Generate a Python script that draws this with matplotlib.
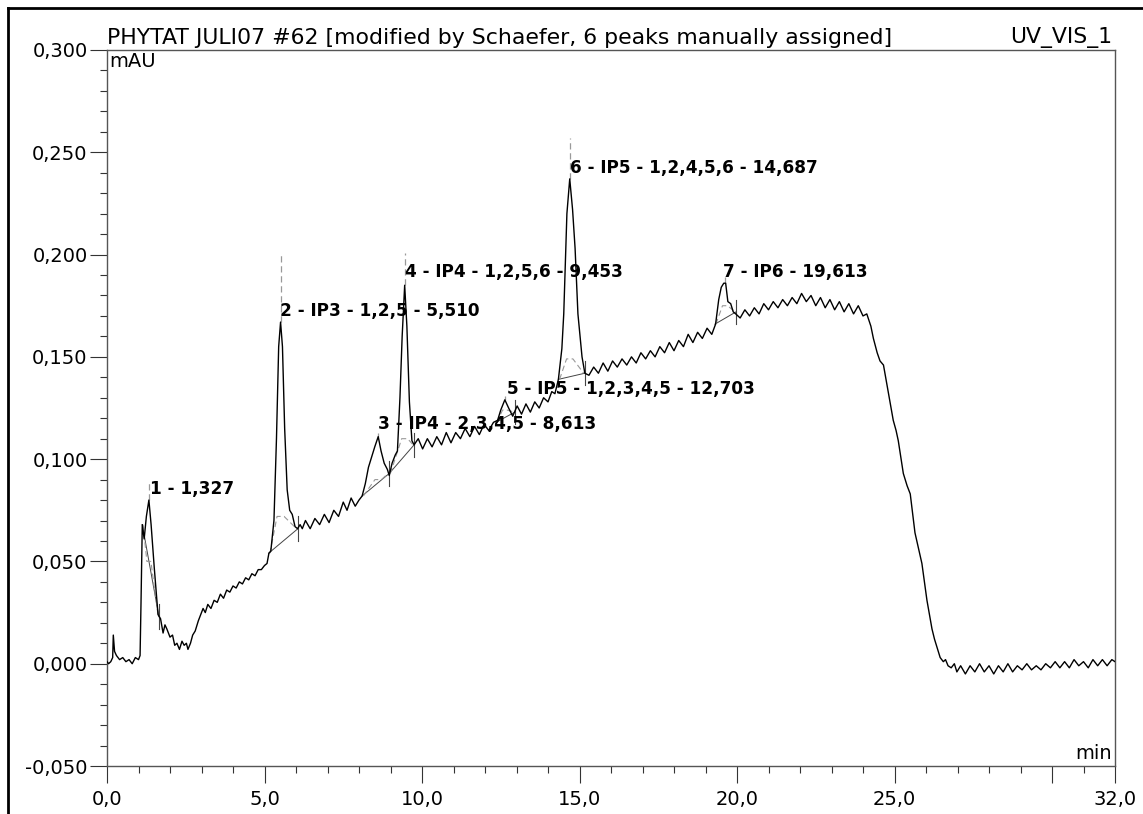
import matplotlib
matplotlib.use("Agg")
import matplotlib.pyplot as plt
from matplotlib.lines import Line2D
from matplotlib.ticker import MultipleLocator, FixedLocator, FuncFormatter

plt.rcParams['font.family'] = ['DejaVu Sans']

# chromatogram trace (min, mAU)
t_trace = [0.0, 0.05, 0.12, 0.18, 0.2, 0.24, 0.3, 0.4, 0.5, 0.6, 0.7, 0.8, 0.9, 1.0, 1.05,
           1.08, 1.12, 1.18, 1.25, 1.33, 1.40, 1.5, 1.62, 1.7, 1.78, 1.84, 1.9, 2.0, 2.08, 2.15,
           2.22, 2.3, 2.38, 2.45, 2.52, 2.57, 2.65, 2.72, 2.8, 2.9, 3.0, 3.05, 3.12, 3.2, 3.3,
           3.4, 3.5, 3.6, 3.7, 3.8, 3.9, 4.0, 4.1, 4.2, 4.3, 4.4, 4.5, 4.6, 4.7, 4.8, 4.9, 5.0,
           5.08, 5.14, 5.2, 5.3, 5.38, 5.45, 5.51, 5.57, 5.64, 5.72, 5.8, 5.88, 5.97, 6.05, 6.13,
           6.2, 6.30, 6.45, 6.60, 6.75, 6.90, 7.05, 7.20, 7.35, 7.50, 7.62, 7.75, 7.88, 8.0, 8.1,
           8.2, 8.3, 8.4, 8.5, 8.61, 8.7, 8.8, 8.9, 8.96, 9.05, 9.15, 9.22, 9.3,
           9.37, 9.45, 9.52, 9.6, 9.68, 9.75, 9.88, 10.02, 10.17, 10.32, 10.47, 10.62, 10.77,
           10.92, 11.07, 11.22, 11.37, 11.52, 11.67, 11.82, 11.97, 12.12, 12.27, 12.4,
           12.5, 12.63, 12.75, 12.88, 13.02, 13.16, 13.3, 13.44, 13.58, 13.72, 13.86, 14.0,
           14.12, 14.22, 14.33, 14.44, 14.5, 14.6, 14.69, 14.78, 14.86, 14.95, 15.08, 15.17,
           15.3, 15.45, 15.6, 15.75, 15.9, 16.05, 16.2, 16.35, 16.5, 16.65, 16.8, 16.95, 17.1,
           17.25, 17.4, 17.55, 17.7, 17.85, 18.0, 18.15, 18.3, 18.45, 18.6, 18.75, 18.9, 19.05,
           19.2, 19.32, 19.42, 19.5, 19.58, 19.64, 19.71, 19.8, 19.88, 19.96,
           20.1, 20.25, 20.4, 20.55, 20.7, 20.85, 21.0, 21.15, 21.3, 21.45, 21.6, 21.75, 21.9,
           22.05, 22.2, 22.35, 22.5, 22.65, 22.8, 22.95, 23.1, 23.25, 23.4, 23.55, 23.7, 23.85,
           24.0, 24.12, 24.25, 24.33, 24.45, 24.54, 24.65, 24.8, 24.96, 25.05, 25.12, 25.28, 25.4,
           25.5, 25.65, 25.87, 25.95, 26.03, 26.1, 26.19, 26.27, 26.35, 26.45, 26.55, 26.62,
           26.7, 26.8, 26.9, 26.98, 27.1, 27.25, 27.4, 27.55, 27.7, 27.85, 28.0, 28.15, 28.3,
           28.45, 28.6, 28.75, 28.9, 29.05, 29.2, 29.35, 29.5, 29.65, 29.8, 29.95, 30.1, 30.25,
           30.4, 30.55, 30.7, 30.85, 31.0, 31.15, 31.3, 31.45, 31.6, 31.75, 31.9, 32.0]
v_trace = [0.001, 0.0, 0.001, 0.003, 0.014, 0.006, 0.004, 0.002, 0.003, 0.001, 0.002, 0.0, 0.003, 0.002, 0.004,
           0.03, 0.068, 0.061, 0.072, 0.080, 0.068, 0.047, 0.024, 0.022, 0.015, 0.019, 0.017, 0.013, 0.014, 0.009,
           0.010, 0.007, 0.011, 0.009, 0.010, 0.007, 0.010, 0.014, 0.016, 0.021, 0.025, 0.027, 0.025, 0.029, 0.027,
           0.031, 0.030, 0.034, 0.032, 0.036, 0.035, 0.038, 0.037, 0.040, 0.039, 0.042, 0.041, 0.044, 0.043, 0.046, 0.046, 0.048,
           0.049, 0.054, 0.055, 0.070, 0.110, 0.155, 0.167, 0.155, 0.115, 0.085, 0.075, 0.073, 0.067, 0.066, 0.068,
           0.066, 0.070, 0.066, 0.071, 0.068, 0.073, 0.069, 0.075, 0.072, 0.079, 0.075, 0.081, 0.077, 0.080, 0.082,
           0.088, 0.096, 0.101, 0.106, 0.111, 0.104, 0.098, 0.095, 0.092, 0.098, 0.102, 0.104, 0.130,
           0.160, 0.185, 0.165, 0.128, 0.109, 0.107, 0.110, 0.105, 0.110, 0.106, 0.111, 0.107, 0.113,
           0.108, 0.113, 0.110, 0.115, 0.111, 0.116, 0.112, 0.117, 0.114, 0.118, 0.119,
           0.124, 0.129, 0.125, 0.121, 0.126, 0.122, 0.127, 0.123, 0.128, 0.125, 0.130, 0.128,
           0.133, 0.132, 0.139, 0.154, 0.171, 0.220, 0.237, 0.222, 0.203, 0.171, 0.150, 0.142,
           0.141, 0.145, 0.142, 0.147, 0.143, 0.148, 0.145, 0.149, 0.146, 0.150, 0.147, 0.152, 0.149,
           0.153, 0.150, 0.155, 0.152, 0.157, 0.153, 0.158, 0.155, 0.161, 0.157, 0.162, 0.159, 0.164,
           0.161, 0.166, 0.178, 0.184, 0.186, 0.186, 0.177, 0.176, 0.172, 0.171,
           0.169, 0.173, 0.170, 0.174, 0.171, 0.176, 0.173, 0.177, 0.174, 0.178, 0.175, 0.179, 0.176,
           0.181, 0.177, 0.180, 0.175, 0.179, 0.174, 0.178, 0.173, 0.177, 0.172, 0.176, 0.171, 0.175,
           0.170, 0.171, 0.165, 0.159, 0.152, 0.148, 0.146, 0.133, 0.119, 0.114, 0.109, 0.093, 0.087,
           0.083, 0.064, 0.049, 0.040, 0.031, 0.025, 0.017, 0.012, 0.008, 0.003, 0.001, 0.002,
           -0.001, -0.002, 0.000, -0.004, -0.001, -0.005, -0.001, -0.004, -0.000, -0.004, -0.001, -0.005, -0.001,
           -0.004, -0.000, -0.004, -0.001, -0.003, 0.000, -0.003, -0.001, -0.003, 0.000, -0.002, 0.001, -0.002,
           0.001, -0.002, 0.002, -0.001, 0.001, -0.002, 0.002, -0.001, 0.002, -0.001, 0.002, 0.001]

# peak integration marks
pk_start_t = [1.12, 5.13, 8.10, 8.96, 12.35, 14.33, 19.30]
pk_start_v = [0.068, 0.054, 0.082, 0.093, 0.118, 0.139, 0.166]
pk_end_t = [1.65, 6.06, 8.96, 9.75, 12.95, 15.17, 19.97]
pk_end_v = [0.023, 0.066, 0.093, 0.107, 0.123, 0.142, 0.172]
pk_apex_t = [1.33, 5.51, 8.61, 9.45, 12.63, 14.69, 19.62]
pk_apex_v = [0.080, 0.167, 0.111, 0.185, 0.129, 0.237, 0.186]
pk_top_v = [0.089, 0.201, 0.113, 0.201, 0.131, 0.257, 0.189]
pk_lvl_v = [0.050, 0.072, 0.090, 0.110, 0.124, 0.149, 0.175]

# peak labels
lbl_text = ["1 - 1,327", "2 - IP3 - 1,2,5 - 5,510", "3 - IP4 - 2,3,4,5 - 8,613",
            "4 - IP4 - 1,2,5,6 - 9,453", "5 - IP5 - 1,2,3,4,5 - 12,703",
            "6 - IP5 - 1,2,4,5,6 - 14,687", "7 - IP6 - 19,613"]
lbl_t = [1.37, 5.49, 8.60, 9.46, 12.70, 14.70, 19.56]
lbl_v = [0.0855, 0.1725, 0.117, 0.1916, 0.1344, 0.2424, 0.1916]

x_ticks = [0, 5, 10, 15, 20, 25, 32]

fig = plt.figure(figsize=(11.43, 8.14), dpi=100)
ax = fig.add_axes([107/1143, 1 - 766/814, 1008/1143, 716/814])

ax.plot(t_trace, v_trace, color='black', lw=1.0, zorder=3)

# integration baselines, delimiters and apex marks
for i in range(len(pk_start_t)):
    ax.plot([pk_start_t[i], pk_end_t[i]], [pk_start_v[i], pk_end_v[i]],
            color='#444444', lw=0.7, zorder=2)
    ax.plot([pk_end_t[i], pk_end_t[i]], [pk_end_v[i] - 0.006, pk_end_v[i] + 0.006],
            color='#444444', lw=0.8, zorder=2)
    ax.plot([pk_apex_t[i], pk_apex_t[i]], [pk_apex_v[i], pk_top_v[i]],
            color='#999999', lw=0.9, ls=(0, (5, 3)), zorder=2)
    w = (pk_end_t[i] - pk_start_t[i]) * 0.3
    ax.plot([pk_start_t[i] + 0.15 * w, pk_apex_t[i] - 0.4 * w, pk_apex_t[i] + 0.4 * w, pk_end_t[i] - 0.15 * w],
            [pk_start_v[i], pk_lvl_v[i], pk_lvl_v[i], pk_end_v[i]],
            color='#999999', lw=0.8, ls=(0, (5, 3)), zorder=2)

for txt, t, v in zip(lbl_text, lbl_t, lbl_v):
    ax.text(t, v, txt, fontsize=12.2, fontweight='bold', va='center', ha='left', zorder=4)

ax.set_xlim(0, 32)
ax.set_ylim(-0.05, 0.30)

ax.xaxis.set_major_locator(FixedLocator([0, 5, 10, 15, 20, 25, 30, 32]))
ax.xaxis.set_minor_locator(MultipleLocator(1))
ax.xaxis.set_major_formatter(FuncFormatter(
    lambda x, p: ('%.1f' % x).replace('.', ',') if round(x) in x_ticks else ''))
ax.yaxis.set_major_locator(MultipleLocator(0.05))
ax.yaxis.set_minor_locator(MultipleLocator(0.01))
ax.yaxis.set_major_formatter(FuncFormatter(lambda y, p: ('%.3f' % y).replace('.', ',')))

ax.tick_params(which='major', length=12, width=0.8, color='#333333', labelsize=14, pad=2)
ax.tick_params(axis='x', which='major', pad=5)
ax.tick_params(which='minor', length=5, width=0.8, color='#333333')
for s in ax.spines.values():
    s.set_color('#555555')
    s.set_linewidth(1.0)

ax.text(0.0, 1.003, "PHYTAT JULI07 #62 [modified by Schaefer, 6 peaks manually assigned]",
        transform=ax.transAxes, fontsize=15.8, ha='left', va='bottom')
ax.text(0.997, 1.003, "UV_VIS_1", transform=ax.transAxes, fontsize=15.8, ha='right', va='bottom')
ax.text(0.002, 0.997, "mAU", transform=ax.transAxes, fontsize=14, ha='left', va='top')
ax.text(0.997, 0.004, "min", transform=ax.transAxes, fontsize=14, ha='right', va='bottom')

# outer frame (top and left edges)
fig.add_artist(Line2D([8/1143, 8/1143], [0, 1 - 8/814], color='black', lw=2, transform=fig.transFigure))
fig.add_artist(Line2D([8/1143, 1], [1 - 8/814, 1 - 8/814], color='black', lw=2, transform=fig.transFigure))

fig.savefig('out.png', dpi=100)
